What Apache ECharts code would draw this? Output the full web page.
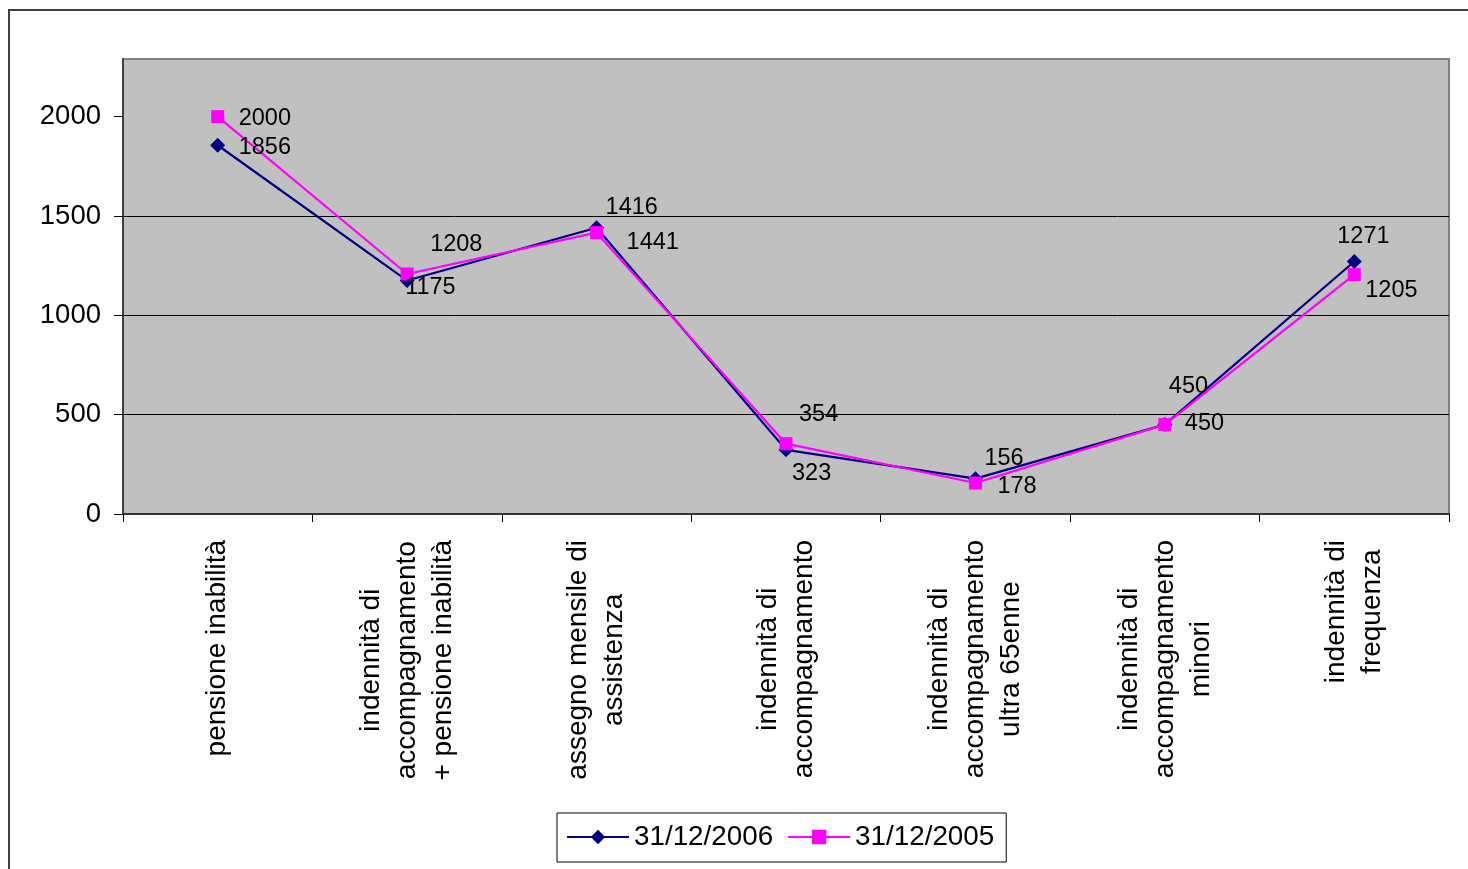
<!DOCTYPE html>
<html>
<head>
<meta charset="utf-8">
<script src="https://cdn.jsdelivr.net/npm/echarts@6/dist/echarts.min.js"></script>
<style>
  html, body { margin: 0; padding: 0; background: #fff; }
  #chart { width: 1468px; height: 869px; }
</style>
</head>
<body>
<div id="chart"></div>
<script>
const categories = [
  "pensione inabilità",
  "indennità di\naccompagnamento\n+ pensione inabilità",
  "assegno mensile di\nassistenza",
  "indennità di\naccompagnamento",
  "indennità di\naccompagnamento\nultra 65enne",
  "indennità di\naccompagnamento\nminori",
  "indennità di\nfrequenza",
];
const values2006 = [1856, 1175, 1441, 323, 178, 450, 1271];
const values2005 = [2000, 1208, 1416, 354, 156, 450, 1205];
const yTicks = [0, 500, 1000, 1500, 2000];

// hand-placed label offsets (from the point), as in the original sheet
const shift2006 = [[21, 2], [-2, 7], [30, 15], [6, 24], [22, 8], [20, -1], [-17, -25]];
const shift2005 = [[21, 2], [23, -29], [9, -25], [13, -29], [9, -24], [4, -38], [11, 16]];

const font = "'Liberation Sans', Arial, sans-serif";

const withLabels = (vals, shifts) =>
  vals.map((v, i) => ({
    value: v,
    label: { offset: shifts[i] },
  }));

const myChart = echarts.init(document.getElementById("chart"));

myChart.setOption({
  animation: false,
  textStyle: { fontFamily: font },
  graphic: [
    {
      type: "rect",
      shape: { x: 9, y: 10, width: 1500, height: 900 },
      style: { fill: "none", stroke: "#404040", lineWidth: 2 },
      silent: true,
    },
  ],
  grid: {
    left: 123,
    right: 19,
    top: 59,
    bottom: 355,
    show: true,
    backgroundColor: "#C0C0C0",
    borderColor: "#808080",
    borderWidth: 2,
  },
  legend: {
    left: 557,
    top: 813,
    padding: [10, 12, 11, 9],
    itemGap: 14,
    itemWidth: 62,
    itemHeight: 18,
    borderColor: "#000",
    borderWidth: 1,
    textStyle: { fontSize: 27.8, color: "#000", fontFamily: font },
    data: ["31/12/2006", "31/12/2005"],
  },
  xAxis: {
    type: "category",
    data: categories,
    boundaryGap: true,
    axisLine: { lineStyle: { color: "#333", width: 2 } },
    axisTick: { show: true, length: 8, lineStyle: { color: "#000" } },
    axisLabel: {
      interval: 0,
      rotate: 90,
      margin: 26,
      color: "#000",
      formatter: (v) => v.split("\n").map((s) => "{c|" + s + "}").join("\n"),
      rich: {
        c: {
          align: "center",
          fontSize: 28,
          lineHeight: 36,
          fontFamily: font,
          color: "#000",
        },
      },
    },
  },
  yAxis: {
    type: "value",
    min: 0,
    max: 2290,
    interval: 500,
    axisLine: { show: true, lineStyle: { color: "#404040", width: 2 } },
    axisTick: { show: true, length: 9, customValues: yTicks, lineStyle: { color: "#000" } },
    axisLabel: {
      customValues: yTicks,
      formatter: (v) => String(v),
      margin: 22,
      fontSize: 27.5,
      color: "#000",
      fontFamily: font,
    },
    splitLine: { show: true, showMaxLine: false, lineStyle: { color: "#000", width: 1 } },
  },
  series: [
    {
      name: "31/12/2006",
      type: "line",
      data: withLabels(values2006, shift2006),
      color: "#000080",
      symbol: "diamond",
      symbolSize: 15,
      lineStyle: { width: 2.2, color: "#000080" },
      itemStyle: { color: "#000080" },
      label: {
        show: true,
        position: "inside",
        align: "left",
        verticalAlign: "middle",
        fontSize: 23.5,
        color: "#000",
        fontFamily: font,
      },
    },
    {
      name: "31/12/2005",
      type: "line",
      data: withLabels(values2005, shift2005),
      color: "#FF00FF",
      symbol: "rect",
      symbolSize: 13,
      lineStyle: { width: 2.2, color: "#FF00FF" },
      itemStyle: { color: "#FF00FF" },
      label: {
        show: true,
        position: "inside",
        align: "left",
        verticalAlign: "middle",
        fontSize: 23.5,
        color: "#000",
        fontFamily: font,
      },
    },
  ],
});

window.addEventListener("resize", () => myChart.resize());
</script>
</body>
</html>
